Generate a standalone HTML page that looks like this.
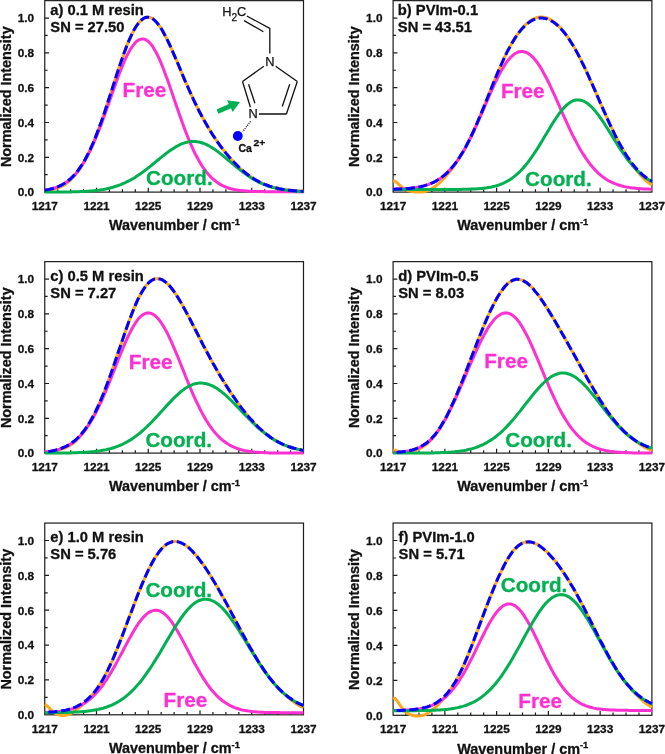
<!DOCTYPE html>
<html lang="en"><head><meta charset="utf-8"><title>Normalized FTIR spectra with peak deconvolution</title>
<style>html,body{margin:0;padding:0;background:#fff}svg{display:block;opacity:0.999;will-change:transform}text{font-family:"Liberation Sans", Arial, Helvetica, sans-serif;font-weight:bold;fill:#111111;stroke:#111111;stroke-width:0.3px;stroke-linejoin:round}.t{font-size:11.8px}.ax{font-size:14.4px}.lb{font-size:14.75px}.big{font-size:20.7px}.c{fill:none;stroke-width:3.0;stroke-linejoin:round}.k{stroke:#1c1c1c;stroke-width:1.2;fill:none}.mol{stroke:#111;stroke-width:1.3;fill:none;stroke-linecap:butt}.rg{font-weight:normal;fill:#111;stroke:#111;stroke-width:0.25px}</style></head><body>
<svg width="665" height="754" viewBox="0 0 665 754">
<rect width="665" height="754" fill="#fff"/>
<g>
<rect class="k" x="44.75" y="0.65" width="258.75" height="191.45"/>
<path class="k" d="M57.69 192.10v-2.9M70.62 192.10v-2.9M83.56 192.10v-2.9M96.50 192.10v-4.3M109.44 192.10v-2.9M122.38 192.10v-2.9M135.31 192.10v-2.9M148.25 192.10v-4.3M161.19 192.10v-2.9M174.12 192.10v-2.9M187.06 192.10v-2.9M200.00 192.10v-4.3M212.94 192.10v-2.9M225.88 192.10v-2.9M238.81 192.10v-2.9M251.75 192.10v-4.3M264.69 192.10v-2.9M277.62 192.10v-2.9M290.56 192.10v-2.9M44.75 174.69h2.9M44.75 157.29h4.3M44.75 139.88h2.9M44.75 122.48h4.3M44.75 105.08h2.9M44.75 87.67h4.3M44.75 70.27h2.9M44.75 52.86h4.3M44.75 35.46h2.9M44.75 18.05h4.3"/>
<text class="t" x="44.8" y="210.1" text-anchor="middle">1217</text>
<text class="t" x="96.5" y="210.1" text-anchor="middle">1221</text>
<text class="t" x="148.2" y="210.1" text-anchor="middle">1225</text>
<text class="t" x="200.0" y="210.1" text-anchor="middle">1229</text>
<text class="t" x="251.8" y="210.1" text-anchor="middle">1233</text>
<text class="t" x="303.5" y="210.1" text-anchor="middle">1237</text>
<text class="t" x="34.1" y="196.3" text-anchor="end">0.0</text>
<text class="t" x="34.1" y="161.5" text-anchor="end">0.2</text>
<text class="t" x="34.1" y="126.7" text-anchor="end">0.4</text>
<text class="t" x="34.1" y="91.9" text-anchor="end">0.6</text>
<text class="t" x="34.1" y="57.1" text-anchor="end">0.8</text>
<text class="t" x="34.1" y="22.3" text-anchor="end">1.0</text>
<text class="ax" x="174.4" y="230.4" text-anchor="middle">Wavenumber / cm<tspan dy="-5.2" font-size="9.4">-1</tspan></text>
<text class="ax" transform="translate(10.5 96.7) rotate(-90)" text-anchor="middle">Normalized Intensity</text>
<path class="c" stroke="#FFA81E" d="M44.8 190.4L46.4 190.3L48.0 190.1L49.6 189.8L51.2 189.5L52.8 189.2L54.5 188.9L56.1 188.4L57.7 187.9L59.3 187.3L60.9 186.6L62.5 185.8L64.2 184.9L65.8 183.9L67.4 182.7L69.0 181.4L70.6 179.9L72.2 178.3L73.9 176.5L75.5 174.6L77.1 172.5L78.7 170.3L80.3 167.9L81.9 165.3L83.6 162.6L85.2 159.7L86.8 156.6L88.4 153.4L90.0 150.0L91.6 146.4L93.3 142.6L94.9 138.7L96.5 134.6L98.1 130.4L99.7 126.0L101.4 121.5L103.0 116.9L104.6 112.1L106.2 107.3L107.8 102.3L109.4 97.3L111.1 92.3L112.7 87.2L114.3 82.2L115.9 77.1L117.5 72.2L119.1 67.3L120.8 62.5L122.4 57.8L124.0 53.3L125.6 48.9L127.2 44.8L128.8 40.9L130.5 37.2L132.1 33.8L133.7 30.6L135.3 27.8L136.9 25.3L138.5 23.1L140.2 21.2L141.8 19.7L143.4 18.5L145.0 17.7L146.6 17.3L148.2 17.2L149.9 17.5L151.5 18.1L153.1 19.1L154.7 20.4L156.3 22.0L158.0 24.0L159.6 26.2L161.2 28.6L162.8 31.3L164.4 34.2L166.0 37.3L167.7 40.6L169.3 44.0L170.9 47.5L172.5 51.1L174.1 54.8L175.7 58.6L177.4 62.4L179.0 66.3L180.6 70.1L182.2 74.0L183.8 77.8L185.4 81.6L187.1 85.3L188.7 89.0L190.3 92.6L191.9 96.1L193.5 99.6L195.1 103.0L196.8 106.3L198.4 109.6L200.0 112.7L201.6 115.8L203.2 118.8L204.9 121.7L206.5 124.5L208.1 127.3L209.7 130.0L211.3 132.6L212.9 135.1L214.6 137.6L216.2 140.0L217.8 142.3L219.4 144.6L221.0 146.8L222.6 149.0L224.3 151.0L225.9 153.1L227.5 155.0L229.1 156.9L230.7 158.8L232.3 160.5L234.0 162.3L235.6 163.9L237.2 165.5L238.8 167.1L240.4 168.6L242.0 170.0L243.7 171.4L245.3 172.7L246.9 174.0L248.5 175.2L250.1 176.3L251.8 177.4L253.4 178.5L255.0 179.5L256.6 180.4L258.2 181.3L259.8 182.1L261.5 182.9L263.1 183.6L264.7 184.3L266.3 184.9L267.9 185.5L269.5 186.1L271.2 186.6L272.8 187.1L274.4 187.5L276.0 187.9L277.6 188.3L279.2 188.7L280.9 189.0L282.5 189.3L284.1 189.5L285.7 189.8L287.3 190.0L288.9 190.2L290.6 190.3L292.2 190.5L293.8 190.7L295.4 190.8L297.0 190.9L298.6 191.0L300.3 191.1L301.9 191.2L303.5 191.2"/>
<path class="c" stroke="#FF30D2" d="M44.8 190.2L46.4 189.9L48.0 189.6L49.6 189.3L51.2 188.9L52.8 188.5L54.5 188.0L56.1 187.5L57.7 186.9L59.3 186.2L60.9 185.4L62.5 184.6L64.2 183.7L65.8 182.6L67.4 181.5L69.0 180.2L70.6 178.9L72.2 177.4L73.9 175.7L75.5 174.0L77.1 172.0L78.7 170.0L80.3 167.7L81.9 165.4L83.6 162.8L85.2 160.1L86.8 157.2L88.4 154.1L90.0 150.9L91.6 147.5L93.3 143.9L94.9 140.2L96.5 136.3L98.1 132.3L99.7 128.1L101.4 123.9L103.0 119.5L104.6 115.0L106.2 110.5L107.8 105.9L109.4 101.3L111.1 96.7L112.7 92.0L114.3 87.4L115.9 82.9L117.5 78.5L119.1 74.2L120.8 70.0L122.4 66.0L124.0 62.1L125.6 58.5L127.2 55.2L128.8 52.1L130.5 49.3L132.1 46.8L133.7 44.6L135.3 42.7L136.9 41.2L138.5 40.1L140.2 39.4L141.8 39.0L143.4 39.0L145.0 39.4L146.6 40.2L148.2 41.4L149.9 43.0L151.5 44.9L153.1 47.2L154.7 49.9L156.3 52.8L158.0 56.1L159.6 59.6L161.2 63.4L162.8 67.3L164.4 71.5L166.0 75.9L167.7 80.3L169.3 84.9L170.9 89.6L172.5 94.3L174.1 99.1L175.7 103.8L177.4 108.5L179.0 113.2L180.6 117.8L182.2 122.3L183.8 126.7L185.4 131.0L187.1 135.2L188.7 139.2L190.3 143.1L191.9 146.7L193.5 150.3L195.1 153.6L196.8 156.8L198.4 159.8L200.0 162.6L201.6 165.2L203.2 167.7L204.9 169.9L206.5 172.1L208.1 174.0L209.7 175.8L211.3 177.5L212.9 179.0L214.6 180.4L216.2 181.7L217.8 182.8L219.4 183.9L221.0 184.8L222.6 185.6L224.3 186.4L225.9 187.1L227.5 187.7L229.1 188.2L230.7 188.7L232.3 189.1L234.0 189.4L235.6 189.8L237.2 190.0L238.8 190.3L240.4 190.5L242.0 190.7L243.7 190.8L245.3 191.0L246.9 191.1L248.5 191.2L250.1 191.3L251.8 191.4L253.4 191.4L255.0 191.5L256.6 191.5L258.2 191.6L259.8 191.6L261.5 191.6L263.1 191.6L264.7 191.7L266.3 191.7L267.9 191.7L269.5 191.7L271.2 191.7L272.8 191.7L274.4 191.7L276.0 191.7L277.6 191.7L279.2 191.7L280.9 191.7L282.5 191.7L284.1 191.7L285.7 191.7L287.3 191.7L288.9 191.7L290.6 191.7L292.2 191.7L293.8 191.8L295.4 191.8L297.0 191.8L298.6 191.8L300.3 191.8L301.9 191.8L303.5 191.8"/>
<path class="c" stroke="#00B050" d="M44.8 192.1L46.4 192.1L48.0 192.1L49.6 192.1L51.2 192.1L52.8 192.1L54.5 192.1L56.1 192.0L57.7 192.0L59.3 192.0L60.9 192.0L62.5 192.0L64.2 192.0L65.8 192.0L67.4 191.9L69.0 191.9L70.6 191.9L72.2 191.8L73.9 191.8L75.5 191.8L77.1 191.7L78.7 191.7L80.3 191.6L81.9 191.5L83.6 191.4L85.2 191.4L86.8 191.3L88.4 191.2L90.0 191.0L91.6 190.9L93.3 190.7L94.9 190.6L96.5 190.4L98.1 190.2L99.7 190.0L101.4 189.7L103.0 189.5L104.6 189.2L106.2 188.9L107.8 188.5L109.4 188.1L111.1 187.7L112.7 187.3L114.3 186.8L115.9 186.3L117.5 185.8L119.1 185.2L120.8 184.6L122.4 183.9L124.0 183.2L125.6 182.5L127.2 181.7L128.8 180.9L130.5 180.0L132.1 179.1L133.7 178.2L135.3 177.2L136.9 176.1L138.5 175.1L140.2 173.9L141.8 172.8L143.4 171.6L145.0 170.4L146.6 169.2L148.2 167.9L149.9 166.6L151.5 165.3L153.1 164.0L154.7 162.7L156.3 161.3L158.0 160.0L159.6 158.7L161.2 157.4L162.8 156.1L164.4 154.8L166.0 153.5L167.7 152.3L169.3 151.1L170.9 150.0L172.5 148.9L174.1 147.9L175.7 146.9L177.4 146.0L179.0 145.2L180.6 144.4L182.2 143.7L183.8 143.1L185.4 142.6L187.1 142.2L188.7 141.9L190.3 141.6L191.9 141.5L193.5 141.5L195.1 141.5L196.8 141.7L198.4 141.9L200.0 142.3L201.6 142.7L203.2 143.2L204.9 143.9L206.5 144.6L208.1 145.4L209.7 146.3L211.3 147.2L212.9 148.2L214.6 149.3L216.2 150.4L217.8 151.6L219.4 152.9L221.0 154.1L222.6 155.4L224.3 156.8L225.9 158.1L227.5 159.5L229.1 160.8L230.7 162.2L232.3 163.6L234.0 164.9L235.6 166.3L237.2 167.6L238.8 168.9L240.4 170.2L242.0 171.4L243.7 172.7L245.3 173.8L246.9 175.0L248.5 176.1L250.1 177.2L251.8 178.2L253.4 179.2L255.0 180.1L256.6 181.0L258.2 181.8L259.8 182.6L261.5 183.4L263.1 184.1L264.7 184.7L266.3 185.4L267.9 186.0L269.5 186.5L271.2 187.0L272.8 187.5L274.4 187.9L276.0 188.3L277.6 188.7L279.2 189.0L280.9 189.3L282.5 189.6L284.1 189.9L285.7 190.1L287.3 190.3L288.9 190.5L290.6 190.7L292.2 190.9L293.8 191.0L295.4 191.1L297.0 191.2L298.6 191.3L300.3 191.4L301.9 191.5L303.5 191.6"/>
<path class="c" stroke="#0000FF" stroke-dasharray="9.2 3.5" stroke-dashoffset="0" d="M44.8 190.2L46.4 189.9L48.0 189.6L49.6 189.3L51.2 188.9L52.8 188.5L54.5 188.0L56.1 187.4L57.7 186.8L59.3 186.1L60.9 185.3L62.5 184.5L64.2 183.5L65.8 182.5L67.4 181.3L69.0 180.0L70.6 178.6L72.2 177.1L73.9 175.4L75.5 173.6L77.1 171.7L78.7 169.5L80.3 167.2L81.9 164.8L83.6 162.1L85.2 159.3L86.8 156.3L88.4 153.2L90.0 149.8L91.6 146.3L93.3 142.6L94.9 138.7L96.5 134.6L98.1 130.4L99.7 126.0L101.4 121.5L103.0 116.9L104.6 112.1L106.2 107.3L107.8 102.3L109.4 97.3L111.1 92.3L112.7 87.2L114.3 82.2L115.9 77.1L117.5 72.2L119.1 67.3L120.8 62.5L122.4 57.8L124.0 53.3L125.6 48.9L127.2 44.8L128.8 40.9L130.5 37.2L132.1 33.8L133.7 30.6L135.3 27.8L136.9 25.3L138.5 23.1L140.2 21.2L141.8 19.7L143.4 18.5L145.0 17.7L146.6 17.3L148.2 17.2L149.9 17.5L151.5 18.1L153.1 19.1L154.7 20.4L156.3 22.0L158.0 24.0L159.6 26.2L161.2 28.6L162.8 31.3L164.4 34.2L166.0 37.3L167.7 40.6L169.3 44.0L170.9 47.5L172.5 51.1L174.1 54.8L175.7 58.6L177.4 62.4L179.0 66.3L180.6 70.1L182.2 74.0L183.8 77.8L185.4 81.6L187.1 85.3L188.7 89.0L190.3 92.6L191.9 96.1L193.5 99.6L195.1 103.0L196.8 106.3L198.4 109.6L200.0 112.7L201.6 115.8L203.2 118.8L204.9 121.7L206.5 124.5L208.1 127.3L209.7 130.0L211.3 132.6L212.9 135.1L214.6 137.6L216.2 140.0L217.8 142.3L219.4 144.6L221.0 146.8L222.6 149.0L224.3 151.0L225.9 153.1L227.5 155.0L229.1 156.9L230.7 158.8L232.3 160.5L234.0 162.3L235.6 163.9L237.2 165.5L238.8 167.1L240.4 168.6L242.0 170.0L243.7 171.4L245.3 172.7L246.9 174.0L248.5 175.2L250.1 176.3L251.8 177.4L253.4 178.5L255.0 179.5L256.6 180.4L258.2 181.3L259.8 182.1L261.5 182.9L263.1 183.6L264.7 184.3L266.3 184.9L267.9 185.5L269.5 186.1L271.2 186.6L272.8 187.1L274.4 187.5L276.0 187.9L277.6 188.3L279.2 188.7L280.9 189.0L282.5 189.3L284.1 189.5L285.7 189.8L287.3 190.0L288.9 190.2L290.6 190.3L292.2 190.5L293.8 190.7L295.4 190.8L297.0 190.9L298.6 191.0L300.3 191.1L301.9 191.2L303.5 191.2"/>
<text class="lb" x="50.3" y="14.8">a) 0.1 M resin</text>
<text class="lb" x="50.3" y="32.1">SN = 27.50</text>
<text class="big" x="122.5" y="96.7" style="fill:#FF30D2;stroke:#FF30D2">Free</text>
<text class="big" x="146.0" y="184.6" style="fill:#00B050;stroke:#00B050">Coord.</text>
</g>
<g>
<rect class="k" x="393.10" y="0.65" width="258.80" height="191.45"/>
<path class="k" d="M406.04 192.10v-2.9M418.98 192.10v-2.9M431.92 192.10v-2.9M444.86 192.10v-4.3M457.80 192.10v-2.9M470.74 192.10v-2.9M483.68 192.10v-2.9M496.62 192.10v-4.3M509.56 192.10v-2.9M522.50 192.10v-2.9M535.44 192.10v-2.9M548.38 192.10v-4.3M561.32 192.10v-2.9M574.26 192.10v-2.9M587.20 192.10v-2.9M600.14 192.10v-4.3M613.08 192.10v-2.9M626.02 192.10v-2.9M638.96 192.10v-2.9M393.10 174.69h2.9M393.10 157.29h4.3M393.10 139.88h2.9M393.10 122.48h4.3M393.10 105.08h2.9M393.10 87.67h4.3M393.10 70.27h2.9M393.10 52.86h4.3M393.10 35.46h2.9M393.10 18.05h4.3"/>
<text class="t" x="393.1" y="210.1" text-anchor="middle">1217</text>
<text class="t" x="444.9" y="210.1" text-anchor="middle">1221</text>
<text class="t" x="496.6" y="210.1" text-anchor="middle">1225</text>
<text class="t" x="548.4" y="210.1" text-anchor="middle">1229</text>
<text class="t" x="600.1" y="210.1" text-anchor="middle">1233</text>
<text class="t" x="651.9" y="210.1" text-anchor="middle">1237</text>
<text class="t" x="382.5" y="196.3" text-anchor="end">0.0</text>
<text class="t" x="382.5" y="161.5" text-anchor="end">0.2</text>
<text class="t" x="382.5" y="126.7" text-anchor="end">0.4</text>
<text class="t" x="382.5" y="91.9" text-anchor="end">0.6</text>
<text class="t" x="382.5" y="57.1" text-anchor="end">0.8</text>
<text class="t" x="382.5" y="22.3" text-anchor="end">1.0</text>
<text class="ax" x="522.8" y="230.4" text-anchor="middle">Wavenumber / cm<tspan dy="-5.2" font-size="9.4">-1</tspan></text>
<text class="ax" transform="translate(358.8 96.7) rotate(-90)" text-anchor="middle">Normalized Intensity</text>
<path class="c" stroke="#FFA81E" d="M393.1 180.9L394.7 181.3L396.3 182.2L398.0 183.6L399.6 185.2L401.2 186.7L402.8 188.0L404.4 189.1L406.0 189.9L407.7 190.5L409.3 190.9L410.9 191.3L412.5 191.6L414.1 191.8L415.7 192.0L417.4 192.1L419.0 192.1L420.6 192.1L422.2 191.9L423.8 191.7L425.5 191.3L427.1 190.8L428.7 190.2L430.3 189.5L431.9 188.6L433.5 187.6L435.2 186.4L436.8 185.2L438.4 183.8L440.0 182.4L441.6 180.8L443.2 179.2L444.9 177.4L446.5 175.6L448.1 173.7L449.7 171.7L451.3 169.6L452.9 167.5L454.6 165.2L456.2 162.9L457.8 160.5L459.4 157.9L461.0 155.3L462.7 152.5L464.3 149.7L465.9 146.7L467.5 143.6L469.1 140.4L470.7 137.1L472.4 133.7L474.0 130.1L475.6 126.5L477.2 122.8L478.8 119.0L480.4 115.2L482.1 111.2L483.7 107.3L485.3 103.3L486.9 99.2L488.5 95.2L490.1 91.1L491.8 87.1L493.4 83.1L495.0 79.1L496.6 75.2L498.2 71.4L499.9 67.6L501.5 64.0L503.1 60.4L504.7 56.9L506.3 53.6L507.9 50.4L509.6 47.3L511.2 44.4L512.8 41.6L514.4 39.0L516.0 36.5L517.6 34.1L519.3 31.9L520.9 29.8L522.5 27.9L524.1 26.2L525.7 24.5L527.4 23.1L529.0 21.7L530.6 20.6L532.2 19.6L533.8 18.7L535.4 18.1L537.1 17.5L538.7 17.2L540.3 17.0L541.9 17.0L543.5 17.2L545.1 17.5L546.8 17.9L548.4 18.6L550.0 19.4L551.6 20.3L553.2 21.4L554.9 22.6L556.5 24.0L558.1 25.4L559.7 27.1L561.3 28.8L562.9 30.7L564.6 32.7L566.2 34.9L567.8 37.2L569.4 39.6L571.0 42.1L572.6 44.7L574.3 47.5L575.9 50.3L577.5 53.3L579.1 56.4L580.7 59.6L582.3 62.9L584.0 66.2L585.6 69.6L587.2 73.1L588.8 76.7L590.4 80.3L592.1 83.9L593.7 87.6L595.3 91.2L596.9 95.0L598.5 98.7L600.1 102.4L601.8 106.1L603.4 109.8L605.0 113.4L606.6 117.1L608.2 120.6L609.8 124.1L611.5 127.6L613.1 131.0L614.7 134.3L616.3 137.5L617.9 140.7L619.5 143.7L621.2 146.7L622.8 149.5L624.4 152.3L626.0 155.0L627.6 157.6L629.3 160.1L630.9 162.5L632.5 164.8L634.1 167.1L635.7 169.2L637.3 171.3L639.0 173.3L640.6 175.2L642.2 177.0L643.8 178.6L645.4 180.2L647.0 181.6L648.7 182.8L650.3 183.9L651.9 184.9"/>
<path class="c" stroke="#FF30D2" d="M393.1 189.2L394.7 189.2L396.3 189.1L398.0 189.1L399.6 189.0L401.2 188.9L402.8 188.9L404.4 188.8L406.0 188.6L407.7 188.5L409.3 188.4L410.9 188.2L412.5 188.0L414.1 187.8L415.7 187.6L417.4 187.3L419.0 187.0L420.6 186.7L422.2 186.3L423.8 185.9L425.5 185.4L427.1 184.9L428.7 184.4L430.3 183.7L431.9 183.1L433.5 182.3L435.2 181.5L436.8 180.6L438.4 179.6L440.0 178.6L441.6 177.4L443.2 176.2L444.9 174.8L446.5 173.4L448.1 171.8L449.7 170.1L451.3 168.4L452.9 166.5L454.6 164.4L456.2 162.3L457.8 160.0L459.4 157.6L461.0 155.1L462.7 152.5L464.3 149.7L465.9 146.8L467.5 143.8L469.1 140.7L470.7 137.5L472.4 134.1L474.0 130.7L475.6 127.2L477.2 123.6L478.8 120.0L480.4 116.3L482.1 112.6L483.7 108.8L485.3 105.0L486.9 101.3L488.5 97.5L490.1 93.8L491.8 90.2L493.4 86.6L495.0 83.1L496.6 79.8L498.2 76.5L499.9 73.4L501.5 70.4L503.1 67.7L504.7 65.1L506.3 62.7L507.9 60.5L509.6 58.5L511.2 56.8L512.8 55.3L514.4 54.0L516.0 53.0L517.6 52.3L519.3 51.8L520.9 51.5L522.5 51.5L524.1 51.7L525.7 52.2L527.4 53.0L529.0 54.0L530.6 55.2L532.2 56.6L533.8 58.3L535.4 60.2L537.1 62.3L538.7 64.6L540.3 67.1L541.9 69.8L543.5 72.7L545.1 75.7L546.8 78.8L548.4 82.0L550.0 85.4L551.6 88.8L553.2 92.4L554.9 95.9L556.5 99.6L558.1 103.2L559.7 106.9L561.3 110.5L562.9 114.2L564.6 117.8L566.2 121.4L567.8 124.9L569.4 128.4L571.0 131.8L572.6 135.1L574.3 138.3L575.9 141.4L577.5 144.4L579.1 147.4L580.7 150.2L582.3 152.8L584.0 155.4L585.6 157.9L587.2 160.2L588.8 162.4L590.4 164.5L592.1 166.5L593.7 168.4L595.3 170.1L596.9 171.8L598.5 173.3L600.1 174.7L601.8 176.1L603.4 177.3L605.0 178.4L606.6 179.5L608.2 180.5L609.8 181.3L611.5 182.2L613.1 182.9L614.7 183.6L616.3 184.2L617.9 184.8L619.5 185.3L621.2 185.8L622.8 186.2L624.4 186.6L626.0 186.9L627.6 187.2L629.3 187.5L630.9 187.7L632.5 187.9L634.1 188.1L635.7 188.3L637.3 188.5L639.0 188.6L640.6 188.7L642.2 188.8L643.8 188.9L645.4 189.0L647.0 189.1L648.7 189.1L650.3 189.2L651.9 189.2"/>
<path class="c" stroke="#00B050" d="M393.1 189.5L394.7 189.5L396.3 189.5L398.0 189.5L399.6 189.5L401.2 189.5L402.8 189.5L404.4 189.5L406.0 189.5L407.7 189.5L409.3 189.5L410.9 189.5L412.5 189.5L414.1 189.5L415.7 189.5L417.4 189.5L419.0 189.5L420.6 189.5L422.2 189.5L423.8 189.5L425.5 189.5L427.1 189.5L428.7 189.5L430.3 189.5L431.9 189.5L433.5 189.5L435.2 189.5L436.8 189.5L438.4 189.5L440.0 189.5L441.6 189.5L443.2 189.5L444.9 189.5L446.5 189.5L448.1 189.5L449.7 189.5L451.3 189.4L452.9 189.4L454.6 189.4L456.2 189.4L457.8 189.4L459.4 189.4L461.0 189.4L462.7 189.3L464.3 189.3L465.9 189.3L467.5 189.2L469.1 189.2L470.7 189.1L472.4 189.1L474.0 189.0L475.6 188.9L477.2 188.8L478.8 188.7L480.4 188.5L482.1 188.4L483.7 188.2L485.3 188.0L486.9 187.8L488.5 187.5L490.1 187.2L491.8 186.9L493.4 186.5L495.0 186.1L496.6 185.7L498.2 185.2L499.9 184.6L501.5 184.0L503.1 183.3L504.7 182.5L506.3 181.7L507.9 180.8L509.6 179.9L511.2 178.8L512.8 177.6L514.4 176.4L516.0 175.1L517.6 173.7L519.3 172.1L520.9 170.5L522.5 168.8L524.1 167.0L525.7 165.0L527.4 163.0L529.0 160.9L530.6 158.7L532.2 156.4L533.8 154.0L535.4 151.6L537.1 149.1L538.7 146.5L540.3 143.9L541.9 141.2L543.5 138.5L545.1 135.8L546.8 133.1L548.4 130.4L550.0 127.7L551.6 125.0L553.2 122.4L554.9 119.9L556.5 117.5L558.1 115.2L559.7 112.9L561.3 110.9L562.9 108.9L564.6 107.1L566.2 105.5L567.8 104.1L569.4 102.9L571.0 101.8L572.6 101.0L574.3 100.4L575.9 100.0L577.5 99.9L579.1 99.9L580.7 100.2L582.3 100.6L584.0 101.3L585.6 102.2L587.2 103.2L588.8 104.5L590.4 105.9L592.1 107.5L593.7 109.2L595.3 111.1L596.9 113.1L598.5 115.2L600.1 117.5L601.8 119.8L603.4 122.2L605.0 124.7L606.6 127.2L608.2 129.8L609.8 132.4L611.5 135.0L613.1 137.6L614.7 140.2L616.3 142.8L617.9 145.4L619.5 147.9L621.2 150.3L622.8 152.7L624.4 155.0L626.0 157.3L627.6 159.5L629.3 161.6L630.9 163.6L632.5 165.5L634.1 167.3L635.7 169.0L637.3 170.7L639.0 172.2L640.6 173.7L642.2 175.1L643.8 176.3L645.4 177.5L647.0 178.7L648.7 179.7L650.3 180.6L651.9 181.5"/>
<path class="c" stroke="#0000FF" stroke-dasharray="9.2 3.5" stroke-dashoffset="0" d="M393.1 189.2L394.7 189.2L396.3 189.1L398.0 189.1L399.6 189.0L401.2 188.9L402.8 188.9L404.4 188.8L406.0 188.6L407.7 188.5L409.3 188.4L410.9 188.2L412.5 188.0L414.1 187.8L415.7 187.6L417.4 187.3L419.0 187.0L420.6 186.7L422.2 186.3L423.8 185.9L425.5 185.4L427.1 184.9L428.7 184.4L430.3 183.7L431.9 183.0L433.5 182.3L435.2 181.5L436.8 180.6L438.4 179.6L440.0 178.5L441.6 177.4L443.2 176.1L444.9 174.8L446.5 173.3L448.1 171.8L449.7 170.1L451.3 168.3L452.9 166.4L454.6 164.4L456.2 162.2L457.8 159.9L459.4 157.5L461.0 155.0L462.7 152.3L464.3 149.5L465.9 146.6L467.5 143.5L469.1 140.3L470.7 137.0L472.4 133.6L474.0 130.1L475.6 126.5L477.2 122.8L478.8 119.0L480.4 115.2L482.1 111.2L483.7 107.3L485.3 103.3L486.9 99.2L488.5 95.2L490.1 91.1L491.8 87.1L493.4 83.1L495.0 79.1L496.6 75.2L498.2 71.4L499.9 67.6L501.5 64.0L503.1 60.4L504.7 57.0L506.3 53.6L507.9 50.4L509.6 47.4L511.2 44.5L512.8 41.7L514.4 39.1L516.0 36.6L517.6 34.3L519.3 32.1L520.9 30.1L522.5 28.3L524.1 26.6L525.7 25.0L527.4 23.6L529.0 22.4L530.6 21.3L532.2 20.4L533.8 19.6L535.4 19.0L537.1 18.5L538.7 18.2L540.3 18.1L541.9 18.0L543.5 18.2L545.1 18.5L546.8 18.9L548.4 19.5L550.0 20.2L551.6 21.1L553.2 22.1L554.9 23.2L556.5 24.5L558.1 25.9L559.7 27.5L561.3 29.2L562.9 31.0L564.6 33.0L566.2 35.1L567.8 37.3L569.4 39.7L571.0 42.2L572.6 44.8L574.3 47.5L575.9 50.4L577.5 53.4L579.1 56.4L580.7 59.6L582.3 62.9L584.0 66.2L585.6 69.6L587.2 73.1L588.8 76.7L590.4 80.3L592.1 83.9L593.7 87.6L595.3 91.2L596.9 95.0L598.5 98.7L600.1 102.4L601.8 106.1L603.4 109.8L605.0 113.4L606.6 117.1L608.2 120.6L609.8 124.1L611.5 127.6L613.1 131.0L614.7 134.3L616.3 137.5L617.9 140.6L619.5 143.6L621.2 146.5L622.8 149.4L624.4 152.1L626.0 154.7L627.6 157.2L629.3 159.5L630.9 161.8L632.5 163.9L634.1 165.9L635.7 167.9L637.3 169.6L639.0 171.3L640.6 172.9L642.2 174.4L643.8 175.8L645.4 177.0L647.0 178.2L648.7 179.3L650.3 180.3L651.9 181.2"/>
<text class="lb" x="397.8" y="15.2">b) PVIm-0.1</text>
<text class="lb" x="397.8" y="32.2">SN = 43.51</text>
<text class="big" x="500.9" y="97.8" style="fill:#FF30D2;stroke:#FF30D2">Free</text>
<text class="big" x="525.1" y="185.7" style="fill:#00B050;stroke:#00B050">Coord.</text>
</g>
<g>
<rect class="k" x="44.75" y="261.64" width="258.75" height="191.46"/>
<path class="k" d="M57.69 453.10v-2.9M70.62 453.10v-2.9M83.56 453.10v-2.9M96.50 453.10v-4.3M109.44 453.10v-2.9M122.38 453.10v-2.9M135.31 453.10v-2.9M148.25 453.10v-4.3M161.19 453.10v-2.9M174.12 453.10v-2.9M187.06 453.10v-2.9M200.00 453.10v-4.3M212.94 453.10v-2.9M225.88 453.10v-2.9M238.81 453.10v-2.9M251.75 453.10v-4.3M264.69 453.10v-2.9M277.62 453.10v-2.9M290.56 453.10v-2.9M44.75 435.70h2.9M44.75 418.29h4.3M44.75 400.88h2.9M44.75 383.48h4.3M44.75 366.08h2.9M44.75 348.67h4.3M44.75 331.26h2.9M44.75 313.86h4.3M44.75 296.46h2.9M44.75 279.05h4.3"/>
<text class="t" x="44.8" y="471.1" text-anchor="middle">1217</text>
<text class="t" x="96.5" y="471.1" text-anchor="middle">1221</text>
<text class="t" x="148.2" y="471.1" text-anchor="middle">1225</text>
<text class="t" x="200.0" y="471.1" text-anchor="middle">1229</text>
<text class="t" x="251.8" y="471.1" text-anchor="middle">1233</text>
<text class="t" x="303.5" y="471.1" text-anchor="middle">1237</text>
<text class="t" x="34.1" y="457.4" text-anchor="end">0.0</text>
<text class="t" x="34.1" y="422.5" text-anchor="end">0.2</text>
<text class="t" x="34.1" y="387.7" text-anchor="end">0.4</text>
<text class="t" x="34.1" y="352.9" text-anchor="end">0.6</text>
<text class="t" x="34.1" y="318.1" text-anchor="end">0.8</text>
<text class="t" x="34.1" y="283.3" text-anchor="end">1.0</text>
<text class="ax" x="174.4" y="491.4" text-anchor="middle">Wavenumber / cm<tspan dy="-5.2" font-size="9.4">-1</tspan></text>
<text class="ax" transform="translate(10.5 357.7) rotate(-90)" text-anchor="middle">Normalized Intensity</text>
<path class="c" stroke="#FFA81E" d="M44.8 452.0L46.4 451.9L48.0 451.7L49.6 451.5L51.2 451.3L52.8 451.1L54.5 450.8L56.1 450.5L57.7 450.2L59.3 449.8L60.9 449.3L62.5 448.8L64.2 448.3L65.8 447.6L67.4 446.9L69.0 446.0L70.6 445.0L72.2 443.9L73.9 442.7L75.5 441.3L77.1 439.8L78.7 438.2L80.3 436.3L81.9 434.4L83.6 432.2L85.2 430.0L86.8 427.5L88.4 424.9L90.0 422.2L91.6 419.3L93.3 416.3L94.9 413.1L96.5 409.7L98.1 406.2L99.7 402.6L101.4 398.8L103.0 394.9L104.6 390.8L106.2 386.6L107.8 382.3L109.4 377.8L111.1 373.3L112.7 368.7L114.3 364.0L115.9 359.3L117.5 354.5L119.1 349.7L120.8 344.9L122.4 340.1L124.0 335.4L125.6 330.8L127.2 326.2L128.8 321.7L130.5 317.3L132.1 313.1L133.7 309.1L135.3 305.3L136.9 301.6L138.5 298.2L140.2 295.0L141.8 292.1L143.4 289.5L145.0 287.1L146.6 285.0L148.2 283.2L149.9 281.7L151.5 280.5L153.1 279.6L154.7 279.0L156.3 278.7L158.0 278.7L159.6 278.9L161.2 279.4L162.8 280.2L164.4 281.2L166.0 282.4L167.7 283.9L169.3 285.6L170.9 287.4L172.5 289.5L174.1 291.7L175.7 294.1L177.4 296.6L179.0 299.2L180.6 301.9L182.2 304.8L183.8 307.7L185.4 310.6L187.1 313.7L188.7 316.7L190.3 319.8L191.9 323.0L193.5 326.1L195.1 329.3L196.8 332.5L198.4 335.7L200.0 338.8L201.6 342.0L203.2 345.1L204.9 348.2L206.5 351.3L208.1 354.3L209.7 357.3L211.3 360.3L212.9 363.2L214.6 366.1L216.2 368.9L217.8 371.7L219.4 374.5L221.0 377.2L222.6 379.8L224.3 382.5L225.9 385.1L227.5 387.6L229.1 390.1L230.7 392.6L232.3 395.0L234.0 397.4L235.6 399.7L237.2 402.0L238.8 404.2L240.4 406.4L242.0 408.6L243.7 410.6L245.3 412.7L246.9 414.7L248.5 416.6L250.1 418.5L251.8 420.3L253.4 422.1L255.0 423.8L256.6 425.4L258.2 427.0L259.8 428.5L261.5 430.0L263.1 431.4L264.7 432.8L266.3 434.1L267.9 435.3L269.5 436.5L271.2 437.7L272.8 438.7L274.4 439.7L276.0 440.7L277.6 441.6L279.2 442.5L280.9 443.3L282.5 444.1L284.1 444.8L285.7 445.5L287.3 446.1L288.9 446.7L290.6 447.2L292.2 447.7L293.8 448.2L295.4 448.6L297.0 449.0L298.6 449.4L300.3 449.8L301.9 450.1L303.5 450.4"/>
<path class="c" stroke="#FF30D2" d="M44.8 452.0L46.4 451.8L48.0 451.6L49.6 451.4L51.2 451.1L52.8 450.8L54.5 450.5L56.1 450.1L57.7 449.7L59.3 449.2L60.9 448.6L62.5 448.0L64.2 447.4L65.8 446.6L67.4 445.8L69.0 444.9L70.6 443.9L72.2 442.8L73.9 441.6L75.5 440.3L77.1 438.9L78.7 437.4L80.3 435.7L81.9 433.9L83.6 432.0L85.2 429.9L86.8 427.7L88.4 425.3L90.0 422.8L91.6 420.2L93.3 417.4L94.9 414.4L96.5 411.3L98.1 408.1L99.7 404.7L101.4 401.3L103.0 397.6L104.6 393.9L106.2 390.1L107.8 386.2L109.4 382.2L111.1 378.1L112.7 374.0L114.3 369.9L115.9 365.8L117.5 361.6L119.1 357.5L120.8 353.5L122.4 349.5L124.0 345.7L125.6 341.9L127.2 338.3L128.8 334.9L130.5 331.6L132.1 328.5L133.7 325.7L135.3 323.1L136.9 320.8L138.5 318.7L140.2 317.0L141.8 315.5L143.4 314.4L145.0 313.6L146.6 313.1L148.2 312.9L149.9 313.1L151.5 313.5L153.1 314.3L154.7 315.4L156.3 316.8L158.0 318.5L159.6 320.5L161.2 322.7L162.8 325.2L164.4 327.9L166.0 330.8L167.7 333.9L169.3 337.3L170.9 340.7L172.5 344.4L174.1 348.1L175.7 351.9L177.4 355.9L179.0 359.8L180.6 363.9L182.2 367.9L183.8 371.9L185.4 376.0L187.1 380.0L188.7 383.9L190.3 387.8L191.9 391.6L193.5 395.3L195.1 398.9L196.8 402.4L198.4 405.7L200.0 409.0L201.6 412.1L203.2 415.1L204.9 418.0L206.5 420.7L208.1 423.2L209.7 425.7L211.3 427.9L212.9 430.1L214.6 432.1L216.2 434.0L217.8 435.7L219.4 437.4L221.0 438.9L222.6 440.3L224.3 441.5L225.9 442.7L227.5 443.8L229.1 444.8L230.7 445.7L232.3 446.5L234.0 447.2L235.6 447.9L237.2 448.5L238.8 449.0L240.4 449.5L242.0 450.0L243.7 450.4L245.3 450.7L246.9 451.0L248.5 451.3L250.1 451.5L251.8 451.7L253.4 451.9L255.0 452.1L256.6 452.2L258.2 452.3L259.8 452.5L261.5 452.5L263.1 452.6L264.7 452.7L266.3 452.8L267.9 452.8L269.5 452.9L271.2 452.9L272.8 452.9L274.4 453.0L276.0 453.0L277.6 453.0L279.2 453.0L280.9 453.0L282.5 453.0L284.1 453.1L285.7 453.1L287.3 453.1L288.9 453.1L290.6 453.1L292.2 453.1L293.8 453.1L295.4 453.1L297.0 453.1L298.6 453.1L300.3 453.1L301.9 453.1L303.5 453.1"/>
<path class="c" stroke="#00B050" d="M44.8 453.1L46.4 453.1L48.0 453.1L49.6 453.1L51.2 453.1L52.8 453.1L54.5 453.0L56.1 453.0L57.7 453.0L59.3 453.0L60.9 453.0L62.5 453.0L64.2 453.0L65.8 453.0L67.4 452.9L69.0 452.9L70.6 452.9L72.2 452.8L73.9 452.8L75.5 452.8L77.1 452.7L78.7 452.6L80.3 452.6L81.9 452.5L83.6 452.4L85.2 452.3L86.8 452.2L88.4 452.1L90.0 452.0L91.6 451.8L93.3 451.7L94.9 451.5L96.5 451.3L98.1 451.1L99.7 450.9L101.4 450.6L103.0 450.3L104.6 450.0L106.2 449.7L107.8 449.3L109.4 448.9L111.1 448.5L112.7 448.0L114.3 447.5L115.9 446.9L117.5 446.3L119.1 445.7L120.8 445.0L122.4 444.3L124.0 443.5L125.6 442.7L127.2 441.8L128.8 440.9L130.5 439.9L132.1 438.8L133.7 437.7L135.3 436.6L136.9 435.4L138.5 434.1L140.2 432.8L141.8 431.4L143.4 430.0L145.0 428.5L146.6 427.0L148.2 425.4L149.9 423.8L151.5 422.2L153.1 420.5L154.7 418.8L156.3 417.1L158.0 415.3L159.6 413.5L161.2 411.7L162.8 410.0L164.4 408.2L166.0 406.4L167.7 404.6L169.3 402.9L170.9 401.2L172.5 399.5L174.1 397.9L175.7 396.3L177.4 394.8L179.0 393.3L180.6 391.9L182.2 390.6L183.8 389.4L185.4 388.3L187.1 387.3L188.7 386.3L190.3 385.5L191.9 384.8L193.5 384.2L195.1 383.7L196.8 383.4L198.4 383.1L200.0 383.0L201.6 383.0L203.2 383.2L204.9 383.4L206.5 383.8L208.1 384.2L209.7 384.8L211.3 385.4L212.9 386.2L214.6 387.1L216.2 388.0L217.8 389.1L219.4 390.2L221.0 391.4L222.6 392.7L224.3 394.0L225.9 395.5L227.5 396.9L229.1 398.5L230.7 400.0L232.3 401.6L234.0 403.3L235.6 404.9L237.2 406.6L238.8 408.3L240.4 410.0L242.0 411.7L243.7 413.4L245.3 415.1L246.9 416.8L248.5 418.4L250.1 420.0L251.8 421.7L253.4 423.2L255.0 424.8L256.6 426.3L258.2 427.8L259.8 429.2L261.5 430.6L263.1 431.9L264.7 433.2L266.3 434.4L267.9 435.6L269.5 436.8L271.2 437.9L272.8 438.9L274.4 439.9L276.0 440.8L277.6 441.7L279.2 442.6L280.9 443.4L282.5 444.1L284.1 444.8L285.7 445.5L287.3 446.1L288.9 446.7L290.6 447.2L292.2 447.7L293.8 448.2L295.4 448.6L297.0 449.1L298.6 449.4L300.3 449.8L301.9 450.1L303.5 450.4"/>
<path class="c" stroke="#0000FF" stroke-dasharray="9.2 3.5" stroke-dashoffset="9.2" d="M44.8 452.0L46.4 451.8L48.0 451.6L49.6 451.4L51.2 451.1L52.8 450.8L54.5 450.4L56.1 450.0L57.7 449.6L59.3 449.1L60.9 448.6L62.5 447.9L64.2 447.2L65.8 446.5L67.4 445.6L69.0 444.7L70.6 443.7L72.2 442.6L73.9 441.3L75.5 440.0L77.1 438.5L78.7 436.9L80.3 435.2L81.9 433.3L83.6 431.3L85.2 429.1L86.8 426.8L88.4 424.3L90.0 421.7L91.6 418.9L93.3 416.0L94.9 412.8L96.5 409.5L98.1 406.1L99.7 402.5L101.4 398.7L103.0 394.8L104.6 390.7L106.2 386.6L107.8 382.2L109.4 377.8L111.1 373.3L112.7 368.7L114.3 364.0L115.9 359.3L117.5 354.5L119.1 349.7L120.8 344.9L122.4 340.1L124.0 335.4L125.6 330.8L127.2 326.2L128.8 321.7L130.5 317.3L132.1 313.1L133.7 309.1L135.3 305.3L136.9 301.6L138.5 298.2L140.2 295.0L141.8 292.1L143.4 289.5L145.0 287.1L146.6 285.0L148.2 283.2L149.9 281.7L151.5 280.5L153.1 279.6L154.7 279.0L156.3 278.7L158.0 278.7L159.6 278.9L161.2 279.4L162.8 280.2L164.4 281.2L166.0 282.4L167.7 283.9L169.3 285.6L170.9 287.4L172.5 289.5L174.1 291.7L175.7 294.1L177.4 296.6L179.0 299.2L180.6 301.9L182.2 304.8L183.8 307.7L185.4 310.6L187.1 313.7L188.7 316.7L190.3 319.8L191.9 323.0L193.5 326.1L195.1 329.3L196.8 332.5L198.4 335.7L200.0 338.8L201.6 342.0L203.2 345.1L204.9 348.2L206.5 351.3L208.1 354.3L209.7 357.3L211.3 360.3L212.9 363.2L214.6 366.1L216.2 368.9L217.8 371.7L219.4 374.5L221.0 377.2L222.6 379.8L224.3 382.5L225.9 385.1L227.5 387.6L229.1 390.1L230.7 392.6L232.3 395.0L234.0 397.4L235.6 399.7L237.2 402.0L238.8 404.2L240.4 406.4L242.0 408.6L243.7 410.6L245.3 412.7L246.9 414.7L248.5 416.6L250.1 418.5L251.8 420.3L253.4 422.1L255.0 423.8L256.6 425.4L258.2 427.0L259.8 428.5L261.5 430.0L263.1 431.4L264.7 432.8L266.3 434.1L267.9 435.3L269.5 436.5L271.2 437.7L272.8 438.7L274.4 439.7L276.0 440.7L277.6 441.6L279.2 442.5L280.9 443.3L282.5 444.1L284.1 444.8L285.7 445.5L287.3 446.1L288.9 446.7L290.6 447.2L292.2 447.7L293.8 448.2L295.4 448.6L297.0 449.0L298.6 449.4L300.3 449.8L301.9 450.1L303.5 450.4"/>
<text class="lb" x="50.3" y="281.2">c) 0.5 M resin</text>
<text class="lb" x="50.3" y="298.4">SN = 7.27</text>
<text class="big" x="128.8" y="369.1" style="fill:#FF30D2;stroke:#FF30D2">Free</text>
<text class="big" x="145.4" y="447.0" style="fill:#00B050;stroke:#00B050">Coord.</text>
</g>
<g>
<rect class="k" x="393.10" y="261.64" width="258.80" height="191.46"/>
<path class="k" d="M406.04 453.10v-2.9M418.98 453.10v-2.9M431.92 453.10v-2.9M444.86 453.10v-4.3M457.80 453.10v-2.9M470.74 453.10v-2.9M483.68 453.10v-2.9M496.62 453.10v-4.3M509.56 453.10v-2.9M522.50 453.10v-2.9M535.44 453.10v-2.9M548.38 453.10v-4.3M561.32 453.10v-2.9M574.26 453.10v-2.9M587.20 453.10v-2.9M600.14 453.10v-4.3M613.08 453.10v-2.9M626.02 453.10v-2.9M638.96 453.10v-2.9M393.10 435.70h2.9M393.10 418.29h4.3M393.10 400.88h2.9M393.10 383.48h4.3M393.10 366.08h2.9M393.10 348.67h4.3M393.10 331.26h2.9M393.10 313.86h4.3M393.10 296.46h2.9M393.10 279.05h4.3"/>
<text class="t" x="393.1" y="471.1" text-anchor="middle">1217</text>
<text class="t" x="444.9" y="471.1" text-anchor="middle">1221</text>
<text class="t" x="496.6" y="471.1" text-anchor="middle">1225</text>
<text class="t" x="548.4" y="471.1" text-anchor="middle">1229</text>
<text class="t" x="600.1" y="471.1" text-anchor="middle">1233</text>
<text class="t" x="651.9" y="471.1" text-anchor="middle">1237</text>
<text class="t" x="382.5" y="457.4" text-anchor="end">0.0</text>
<text class="t" x="382.5" y="422.5" text-anchor="end">0.2</text>
<text class="t" x="382.5" y="387.7" text-anchor="end">0.4</text>
<text class="t" x="382.5" y="352.9" text-anchor="end">0.6</text>
<text class="t" x="382.5" y="318.1" text-anchor="end">0.8</text>
<text class="t" x="382.5" y="283.3" text-anchor="end">1.0</text>
<text class="ax" x="522.8" y="491.4" text-anchor="middle">Wavenumber / cm<tspan dy="-5.2" font-size="9.4">-1</tspan></text>
<text class="ax" transform="translate(358.8 357.7) rotate(-90)" text-anchor="middle">Normalized Intensity</text>
<path class="c" stroke="#FFA81E" d="M393.1 450.2L394.7 450.3L396.3 450.8L398.0 451.3L399.6 451.7L401.2 451.9L402.8 452.0L404.4 451.9L406.0 451.8L407.7 451.6L409.3 451.4L410.9 451.1L412.5 450.8L414.1 450.4L415.7 450.0L417.4 449.4L419.0 448.8L420.6 448.1L422.2 447.2L423.8 446.2L425.5 445.1L427.1 443.8L428.7 442.4L430.3 440.8L431.9 439.1L433.5 437.2L435.2 435.2L436.8 432.9L438.4 430.6L440.0 428.1L441.6 425.4L443.2 422.6L444.9 419.7L446.5 416.6L448.1 413.4L449.7 410.1L451.3 406.7L452.9 403.1L454.6 399.5L456.2 395.7L457.8 391.9L459.4 388.0L461.0 384.0L462.7 380.0L464.3 375.9L465.9 371.7L467.5 367.5L469.1 363.4L470.7 359.1L472.4 354.9L474.0 350.7L475.6 346.5L477.2 342.4L478.8 338.2L480.4 334.2L482.1 330.1L483.7 326.2L485.3 322.4L486.9 318.6L488.5 315.0L490.1 311.4L491.8 308.0L493.4 304.8L495.0 301.7L496.6 298.8L498.2 296.0L499.9 293.4L501.5 291.0L503.1 288.8L504.7 286.8L506.3 285.0L507.9 283.4L509.6 282.1L511.2 281.1L512.8 280.2L514.4 279.7L516.0 279.3L517.6 279.3L519.3 279.4L520.9 279.8L522.5 280.4L524.1 281.2L525.7 282.1L527.4 283.3L529.0 284.7L530.6 286.2L532.2 287.8L533.8 289.6L535.4 291.6L537.1 293.6L538.7 295.7L540.3 298.0L541.9 300.3L543.5 302.7L545.1 305.2L546.8 307.7L548.4 310.3L550.0 312.9L551.6 315.5L553.2 318.2L554.9 320.9L556.5 323.7L558.1 326.5L559.7 329.3L561.3 332.1L562.9 334.9L564.6 337.7L566.2 340.6L567.8 343.5L569.4 346.4L571.0 349.2L572.6 352.1L574.3 355.0L575.9 358.0L577.5 360.9L579.1 363.8L580.7 366.7L582.3 369.6L584.0 372.5L585.6 375.3L587.2 378.2L588.8 381.0L590.4 383.9L592.1 386.6L593.7 389.4L595.3 392.1L596.9 394.8L598.5 397.5L600.1 400.1L601.8 402.6L603.4 405.1L605.0 407.6L606.6 410.0L608.2 412.3L609.8 414.5L611.5 416.7L613.1 418.8L614.7 420.9L616.3 422.9L617.9 424.8L619.5 426.6L621.2 428.4L622.8 430.0L624.4 431.7L626.0 433.2L627.6 434.7L629.3 436.1L630.9 437.5L632.5 438.8L634.1 440.1L635.7 441.3L637.3 442.5L639.0 443.6L640.6 444.7L642.2 445.7L643.8 446.7L645.4 447.6L647.0 448.4L648.7 449.1L650.3 449.8L651.9 450.3"/>
<path class="c" stroke="#FF30D2" d="M393.1 452.6L394.7 452.5L396.3 452.4L398.0 452.3L399.6 452.1L401.2 452.0L402.8 451.8L404.4 451.5L406.0 451.3L407.7 451.0L409.3 450.7L410.9 450.3L412.5 449.9L414.1 449.4L415.7 448.9L417.4 448.2L419.0 447.6L420.6 446.8L422.2 445.9L423.8 444.9L425.5 443.8L427.1 442.6L428.7 441.3L430.3 439.9L431.9 438.3L433.5 436.5L435.2 434.6L436.8 432.6L438.4 430.4L440.0 428.0L441.6 425.5L443.2 422.9L444.9 420.1L446.5 417.2L448.1 414.1L449.7 410.9L451.3 407.6L452.9 404.2L454.6 400.8L456.2 397.2L457.8 393.6L459.4 389.9L461.0 386.1L462.7 382.4L464.3 378.6L465.9 374.8L467.5 370.9L469.1 367.1L470.7 363.4L472.4 359.6L474.0 355.9L475.6 352.3L477.2 348.8L478.8 345.3L480.4 342.0L482.1 338.7L483.7 335.6L485.3 332.7L486.9 329.9L488.5 327.3L490.1 324.9L491.8 322.6L493.4 320.6L495.0 318.8L496.6 317.2L498.2 315.9L499.9 314.8L501.5 313.9L503.1 313.3L504.7 313.0L506.3 312.9L507.9 313.1L509.6 313.6L511.2 314.4L512.8 315.4L514.4 316.8L516.0 318.4L517.6 320.3L519.3 322.4L520.9 324.8L522.5 327.4L524.1 330.2L525.7 333.2L527.4 336.3L529.0 339.7L530.6 343.1L532.2 346.7L533.8 350.4L535.4 354.1L537.1 358.0L538.7 361.8L540.3 365.7L541.9 369.6L543.5 373.5L545.1 377.4L546.8 381.2L548.4 385.0L550.0 388.8L551.6 392.4L553.2 396.0L554.9 399.4L556.5 402.8L558.1 406.1L559.7 409.2L561.3 412.2L562.9 415.1L564.6 417.9L566.2 420.5L567.8 423.0L569.4 425.3L571.0 427.6L572.6 429.7L574.3 431.6L575.9 433.5L577.5 435.2L579.1 436.8L580.7 438.3L582.3 439.7L584.0 441.0L585.6 442.2L587.2 443.3L588.8 444.3L590.4 445.2L592.1 446.0L593.7 446.8L595.3 447.5L596.9 448.1L598.5 448.6L600.1 449.2L601.8 449.6L603.4 450.0L605.0 450.4L606.6 450.7L608.2 451.0L609.8 451.3L611.5 451.5L613.1 451.7L614.7 451.9L616.3 452.1L617.9 452.2L619.5 452.3L621.2 452.4L622.8 452.5L624.4 452.6L626.0 452.7L627.6 452.7L629.3 452.8L630.9 452.8L632.5 452.9L634.1 452.9L635.7 452.9L637.3 453.0L639.0 453.0L640.6 453.0L642.2 453.0L643.8 453.0L645.4 453.0L647.0 453.1L648.7 453.1L650.3 453.1L651.9 453.1"/>
<path class="c" stroke="#00B050" d="M393.1 453.1L394.7 453.1L396.3 453.1L398.0 453.1L399.6 453.1L401.2 453.1L402.8 453.1L404.4 453.1L406.0 453.1L407.7 453.1L409.3 453.1L410.9 453.1L412.5 453.1L414.1 453.1L415.7 453.1L417.4 453.1L419.0 453.0L420.6 453.0L422.2 453.0L423.8 453.0L425.5 453.0L427.1 453.0L428.7 453.0L430.3 452.9L431.9 452.9L433.5 452.9L435.2 452.8L436.8 452.8L438.4 452.8L440.0 452.7L441.6 452.6L443.2 452.6L444.9 452.5L446.5 452.4L448.1 452.3L449.7 452.2L451.3 452.1L452.9 451.9L454.6 451.8L456.2 451.6L457.8 451.4L459.4 451.2L461.0 451.0L462.7 450.7L464.3 450.5L465.9 450.2L467.5 449.8L469.1 449.4L470.7 449.0L472.4 448.6L474.0 448.1L475.6 447.6L477.2 447.0L478.8 446.4L480.4 445.7L482.1 445.0L483.7 444.3L485.3 443.4L486.9 442.6L488.5 441.6L490.1 440.6L491.8 439.6L493.4 438.4L495.0 437.2L496.6 436.0L498.2 434.7L499.9 433.3L501.5 431.8L503.1 430.3L504.7 428.7L506.3 427.1L507.9 425.4L509.6 423.6L511.2 421.8L512.8 420.0L514.4 418.1L516.0 416.1L517.6 414.1L519.3 412.1L520.9 410.1L522.5 408.0L524.1 405.9L525.7 403.9L527.4 401.8L529.0 399.7L530.6 397.7L532.2 395.6L533.8 393.7L535.4 391.7L537.1 389.8L538.7 388.0L540.3 386.2L541.9 384.6L543.5 383.0L545.1 381.5L546.8 380.1L548.4 378.8L550.0 377.6L551.6 376.6L553.2 375.6L554.9 374.8L556.5 374.2L558.1 373.7L559.7 373.3L561.3 373.1L562.9 373.0L564.6 373.1L566.2 373.3L567.8 373.7L569.4 374.2L571.0 374.8L572.6 375.6L574.3 376.5L575.9 377.6L577.5 378.8L579.1 380.1L580.7 381.5L582.3 383.0L584.0 384.6L585.6 386.3L587.2 388.0L588.8 389.9L590.4 391.8L592.1 393.7L593.7 395.7L595.3 397.8L596.9 399.8L598.5 401.9L600.1 404.0L601.8 406.1L603.4 408.2L605.0 410.3L606.6 412.3L608.2 414.4L609.8 416.3L611.5 418.3L613.1 420.2L614.7 422.1L616.3 423.9L617.9 425.7L619.5 427.4L621.2 429.0L622.8 430.6L624.4 432.1L626.0 433.5L627.6 434.9L629.3 436.2L630.9 437.5L632.5 438.7L634.1 439.8L635.7 440.9L637.3 441.8L639.0 442.8L640.6 443.6L642.2 444.5L643.8 445.2L645.4 445.9L647.0 446.6L648.7 447.2L650.3 447.7L651.9 448.3"/>
<path class="c" stroke="#0000FF" stroke-dasharray="9.2 3.5" stroke-dashoffset="9.2" d="M393.1 452.6L394.7 452.5L396.3 452.4L398.0 452.3L399.6 452.1L401.2 451.9L402.8 451.8L404.4 451.5L406.0 451.3L407.7 451.0L409.3 450.7L410.9 450.3L412.5 449.9L414.1 449.4L415.7 448.8L417.4 448.2L419.0 447.5L420.6 446.7L422.2 445.8L423.8 444.8L425.5 443.7L427.1 442.5L428.7 441.2L430.3 439.7L431.9 438.1L433.5 436.3L435.2 434.4L436.8 432.3L438.4 430.0L440.0 427.6L441.6 425.1L443.2 422.3L444.9 419.5L446.5 416.5L448.1 413.3L449.7 410.0L451.3 406.6L452.9 403.1L454.6 399.4L456.2 395.7L457.8 391.9L459.4 388.0L461.0 384.0L462.7 380.0L464.3 375.9L465.9 371.7L467.5 367.5L469.1 363.4L470.7 359.1L472.4 354.9L474.0 350.7L475.6 346.5L477.2 342.4L478.8 338.2L480.4 334.2L482.1 330.1L483.7 326.2L485.3 322.4L486.9 318.6L488.5 315.0L490.1 311.4L491.8 308.0L493.4 304.8L495.0 301.7L496.6 298.8L498.2 296.0L499.9 293.4L501.5 291.0L503.1 288.8L504.7 286.8L506.3 285.0L507.9 283.4L509.6 282.1L511.2 281.1L512.8 280.2L514.4 279.7L516.0 279.3L517.6 279.3L519.3 279.4L520.9 279.8L522.5 280.4L524.1 281.2L525.7 282.1L527.4 283.3L529.0 284.7L530.6 286.2L532.2 287.8L533.8 289.6L535.4 291.6L537.1 293.6L538.7 295.7L540.3 298.0L541.9 300.3L543.5 302.7L545.1 305.2L546.8 307.7L548.4 310.3L550.0 312.9L551.6 315.5L553.2 318.2L554.9 320.9L556.5 323.7L558.1 326.5L559.7 329.3L561.3 332.1L562.9 334.9L564.6 337.7L566.2 340.6L567.8 343.5L569.4 346.4L571.0 349.2L572.6 352.1L574.3 355.0L575.9 358.0L577.5 360.9L579.1 363.8L580.7 366.7L582.3 369.6L584.0 372.5L585.6 375.3L587.2 378.2L588.8 381.0L590.4 383.9L592.1 386.6L593.7 389.4L595.3 392.1L596.9 394.8L598.5 397.5L600.1 400.1L601.8 402.6L603.4 405.1L605.0 407.6L606.6 410.0L608.2 412.3L609.8 414.5L611.5 416.7L613.1 418.8L614.7 420.9L616.3 422.9L617.9 424.8L619.5 426.6L621.2 428.3L622.8 430.0L624.4 431.6L626.0 433.1L627.6 434.6L629.3 435.9L630.9 437.2L632.5 438.5L634.1 439.6L635.7 440.7L637.3 441.7L639.0 442.7L640.6 443.6L642.2 444.4L643.8 445.2L645.4 445.9L647.0 446.5L648.7 447.1L650.3 447.7L651.9 448.2"/>
<text class="lb" x="398.2" y="281.2">d) PVIm-0.5</text>
<text class="lb" x="398.2" y="298.4">SN = 8.03</text>
<text class="big" x="484.2" y="368.4" style="fill:#FF30D2;stroke:#FF30D2">Free</text>
<text class="big" x="505.3" y="447.1" style="fill:#00B050;stroke:#00B050">Coord.</text>
</g>
<g>
<rect class="k" x="44.75" y="523.07" width="258.75" height="191.73"/>
<path class="k" d="M57.69 714.80v-2.9M70.62 714.80v-2.9M83.56 714.80v-2.9M96.50 714.80v-4.3M109.44 714.80v-2.9M122.38 714.80v-2.9M135.31 714.80v-2.9M148.25 714.80v-4.3M161.19 714.80v-2.9M174.12 714.80v-2.9M187.06 714.80v-2.9M200.00 714.80v-4.3M212.94 714.80v-2.9M225.88 714.80v-2.9M238.81 714.80v-2.9M251.75 714.80v-4.3M264.69 714.80v-2.9M277.62 714.80v-2.9M290.56 714.80v-2.9M44.75 697.37h2.9M44.75 679.94h4.3M44.75 662.51h2.9M44.75 645.08h4.3M44.75 627.65h2.9M44.75 610.22h4.3M44.75 592.79h2.9M44.75 575.36h4.3M44.75 557.93h2.9M44.75 540.50h4.3"/>
<text class="t" x="44.8" y="732.8" text-anchor="middle">1217</text>
<text class="t" x="96.5" y="732.8" text-anchor="middle">1221</text>
<text class="t" x="148.2" y="732.8" text-anchor="middle">1225</text>
<text class="t" x="200.0" y="732.8" text-anchor="middle">1229</text>
<text class="t" x="251.8" y="732.8" text-anchor="middle">1233</text>
<text class="t" x="303.5" y="732.8" text-anchor="middle">1237</text>
<text class="t" x="34.1" y="719.0" text-anchor="end">0.0</text>
<text class="t" x="34.1" y="684.2" text-anchor="end">0.2</text>
<text class="t" x="34.1" y="649.3" text-anchor="end">0.4</text>
<text class="t" x="34.1" y="614.5" text-anchor="end">0.6</text>
<text class="t" x="34.1" y="579.6" text-anchor="end">0.8</text>
<text class="t" x="34.1" y="544.8" text-anchor="end">1.0</text>
<text class="ax" x="174.4" y="753.1" text-anchor="middle">Wavenumber / cm<tspan dy="-5.2" font-size="9.4">-1</tspan></text>
<text class="ax" transform="translate(10.5 619.2) rotate(-90)" text-anchor="middle">Normalized Intensity</text>
<path class="c" stroke="#FFA81E" d="M44.8 704.4L46.4 705.3L48.0 706.8L49.6 708.4L51.2 710.1L52.8 711.6L54.5 712.9L56.1 713.8L57.7 714.5L59.3 715.0L60.9 715.3L62.5 715.5L64.2 715.5L65.8 715.3L67.4 714.9L69.0 714.4L70.6 713.7L72.2 712.8L73.9 711.8L75.5 710.7L77.1 709.4L78.7 708.1L80.3 706.7L81.9 705.3L83.6 703.8L85.2 702.3L86.8 700.7L88.4 699.1L90.0 697.4L91.6 695.5L93.3 693.6L94.9 691.6L96.5 689.4L98.1 687.1L99.7 684.7L101.4 682.1L103.0 679.3L104.6 676.4L106.2 673.3L107.8 670.1L109.4 666.7L111.1 663.2L112.7 659.6L114.3 655.8L115.9 651.9L117.5 648.0L119.1 643.9L120.8 639.7L122.4 635.5L124.0 631.3L125.6 627.0L127.2 622.6L128.8 618.3L130.5 614.0L132.1 609.7L133.7 605.4L135.3 601.2L136.9 597.0L138.5 592.9L140.2 588.9L141.8 584.9L143.4 581.1L145.0 577.4L146.6 573.8L148.2 570.4L149.9 567.1L151.5 564.0L153.1 561.0L154.7 558.3L156.3 555.7L158.0 553.3L159.6 551.2L161.2 549.2L162.8 547.5L164.4 546.0L166.0 544.7L167.7 543.6L169.3 542.8L170.9 542.2L172.5 541.7L174.1 541.5L175.7 541.5L177.4 541.7L179.0 542.1L180.6 542.6L182.2 543.3L183.8 544.2L185.4 545.2L187.1 546.4L188.7 547.7L190.3 549.2L191.9 550.8L193.5 552.5L195.1 554.3L196.8 556.2L198.4 558.2L200.0 560.3L201.6 562.5L203.2 564.7L204.9 567.1L206.5 569.5L208.1 572.0L209.7 574.5L211.3 577.1L212.9 579.8L214.6 582.5L216.2 585.2L217.8 588.0L219.4 590.8L221.0 593.7L222.6 596.6L224.3 599.5L225.9 602.4L227.5 605.4L229.1 608.4L230.7 611.4L232.3 614.5L234.0 617.5L235.6 620.6L237.2 623.6L238.8 626.6L240.4 629.7L242.0 632.7L243.7 635.7L245.3 638.7L246.9 641.6L248.5 644.6L250.1 647.4L251.8 650.3L253.4 653.1L255.0 655.8L256.6 658.5L258.2 661.2L259.8 663.7L261.5 666.3L263.1 668.7L264.7 671.1L266.3 673.4L267.9 675.6L269.5 677.8L271.2 679.8L272.8 681.8L274.4 683.8L276.0 685.6L277.6 687.4L279.2 689.1L280.9 690.8L282.5 692.4L284.1 693.9L285.7 695.4L287.3 696.9L288.9 698.2L290.6 699.6L292.2 700.9L293.8 702.1L295.4 703.2L297.0 704.3L298.6 705.3L300.3 706.2L301.9 707.0L303.5 707.7"/>
<path class="c" stroke="#FF30D2" d="M44.8 712.4L46.4 712.3L48.0 712.3L49.6 712.2L51.2 712.1L52.8 712.0L54.5 711.9L56.1 711.7L57.7 711.6L59.3 711.4L60.9 711.2L62.5 710.9L64.2 710.7L65.8 710.4L67.4 710.0L69.0 709.6L70.6 709.2L72.2 708.8L73.9 708.2L75.5 707.6L77.1 707.0L78.7 706.3L80.3 705.5L81.9 704.6L83.6 703.7L85.2 702.7L86.8 701.6L88.4 700.4L90.0 699.1L91.6 697.7L93.3 696.1L94.9 694.5L96.5 692.8L98.1 691.0L99.7 689.0L101.4 687.0L103.0 684.8L104.6 682.5L106.2 680.1L107.8 677.6L109.4 675.0L111.1 672.4L112.7 669.6L114.3 666.8L115.9 663.9L117.5 660.9L119.1 657.9L120.8 654.8L122.4 651.8L124.0 648.7L125.6 645.6L127.2 642.6L128.8 639.6L130.5 636.7L132.1 633.8L133.7 631.0L135.3 628.4L136.9 625.8L138.5 623.4L140.2 621.2L141.8 619.1L143.4 617.3L145.0 615.6L146.6 614.1L148.2 612.9L149.9 611.9L151.5 611.1L153.1 610.6L154.7 610.3L156.3 610.2L158.0 610.5L159.6 610.9L161.2 611.7L162.8 612.6L164.4 613.9L166.0 615.3L167.7 617.0L169.3 618.9L170.9 620.9L172.5 623.2L174.1 625.6L175.7 628.2L177.4 630.9L179.0 633.7L180.6 636.6L182.2 639.6L183.8 642.6L185.4 645.7L187.1 648.8L188.7 651.9L190.3 655.0L191.9 658.1L193.5 661.2L195.1 664.2L196.8 667.1L198.4 670.0L200.0 672.8L201.6 675.5L203.2 678.1L204.9 680.6L206.5 683.0L208.1 685.3L209.7 687.5L211.3 689.6L212.9 691.5L214.6 693.3L216.2 695.1L217.8 696.7L219.4 698.2L221.0 699.5L222.6 700.8L224.3 702.0L225.9 703.1L227.5 704.1L229.1 705.0L230.7 705.9L232.3 706.6L234.0 707.3L235.6 708.0L237.2 708.5L238.8 709.0L240.4 709.5L242.0 709.9L243.7 710.2L245.3 710.6L246.9 710.8L248.5 711.1L250.1 711.3L251.8 711.5L253.4 711.7L255.0 711.8L256.6 711.9L258.2 712.1L259.8 712.2L261.5 712.2L263.1 712.3L264.7 712.4L266.3 712.4L267.9 712.5L269.5 712.5L271.2 712.5L272.8 712.6L274.4 712.6L276.0 712.6L277.6 712.6L279.2 712.6L280.9 712.7L282.5 712.7L284.1 712.7L285.7 712.7L287.3 712.7L288.9 712.7L290.6 712.7L292.2 712.7L293.8 712.7L295.4 712.7L297.0 712.7L298.6 712.7L300.3 712.7L301.9 712.7L303.5 712.7"/>
<path class="c" stroke="#00B050" d="M44.8 712.7L46.4 712.7L48.0 712.7L49.6 712.6L51.2 712.6L52.8 712.6L54.5 712.6L56.1 712.6L57.7 712.6L59.3 712.5L60.9 712.5L62.5 712.5L64.2 712.5L65.8 712.4L67.4 712.4L69.0 712.3L70.6 712.3L72.2 712.2L73.9 712.1L75.5 712.1L77.1 712.0L78.7 711.9L80.3 711.8L81.9 711.7L83.6 711.5L85.2 711.4L86.8 711.2L88.4 711.0L90.0 710.8L91.6 710.6L93.3 710.3L94.9 710.0L96.5 709.7L98.1 709.4L99.7 709.0L101.4 708.6L103.0 708.2L104.6 707.7L106.2 707.2L107.8 706.6L109.4 706.0L111.1 705.3L112.7 704.6L114.3 703.8L115.9 703.0L117.5 702.1L119.1 701.2L120.8 700.1L122.4 699.0L124.0 697.9L125.6 696.6L127.2 695.3L128.8 693.9L130.5 692.5L132.1 690.9L133.7 689.3L135.3 687.6L136.9 685.8L138.5 683.9L140.2 682.0L141.8 680.0L143.4 677.8L145.0 675.7L146.6 673.4L148.2 671.1L149.9 668.7L151.5 666.2L153.1 663.7L154.7 661.1L156.3 658.5L158.0 655.9L159.6 653.2L161.2 650.4L162.8 647.7L164.4 644.9L166.0 642.2L167.7 639.4L169.3 636.7L170.9 634.0L172.5 631.3L174.1 628.7L175.7 626.1L177.4 623.5L179.0 621.1L180.6 618.7L182.2 616.5L183.8 614.3L185.4 612.3L187.1 610.3L188.7 608.5L190.3 606.9L191.9 605.3L193.5 604.0L195.1 602.8L196.8 601.7L198.4 600.9L200.0 600.2L201.6 599.7L203.2 599.3L204.9 599.2L206.5 599.2L208.1 599.4L209.7 599.7L211.3 600.3L212.9 601.0L214.6 601.8L216.2 602.9L217.8 604.0L219.4 605.4L221.0 606.8L222.6 608.4L224.3 610.2L225.9 612.0L227.5 614.0L229.1 616.1L230.7 618.3L232.3 620.5L234.0 622.9L235.6 625.3L237.2 627.8L238.8 630.3L240.4 632.9L242.0 635.5L243.7 638.2L245.3 640.8L246.9 643.5L248.5 646.2L250.1 648.9L251.8 651.5L253.4 654.1L255.0 656.7L256.6 659.3L258.2 661.8L259.8 664.3L261.5 666.7L263.1 669.1L264.7 671.4L266.3 673.7L267.9 675.8L269.5 678.0L271.2 680.0L272.8 682.0L274.4 683.9L276.0 685.7L277.6 687.4L279.2 689.1L280.9 690.7L282.5 692.2L284.1 693.6L285.7 695.0L287.3 696.3L288.9 697.5L290.6 698.6L292.2 699.7L293.8 700.7L295.4 701.7L297.0 702.6L298.6 703.4L300.3 704.2L301.9 704.9L303.5 705.6"/>
<path class="c" stroke="#0000FF" stroke-dasharray="9.2 3.5" stroke-dashoffset="9.2" d="M44.8 712.3L46.4 712.3L48.0 712.2L49.6 712.1L51.2 712.0L52.8 711.9L54.5 711.8L56.1 711.6L57.7 711.4L59.3 711.2L60.9 711.0L62.5 710.7L64.2 710.4L65.8 710.1L67.4 709.7L69.0 709.3L70.6 708.8L72.2 708.3L73.9 707.7L75.5 707.0L77.1 706.3L78.7 705.4L80.3 704.5L81.9 703.5L83.6 702.4L85.2 701.2L86.8 699.9L88.4 698.5L90.0 696.9L91.6 695.3L93.3 693.4L94.9 691.5L96.5 689.3L98.1 687.1L99.7 684.6L101.4 682.0L103.0 679.3L104.6 676.4L106.2 673.3L107.8 670.1L109.4 666.7L111.1 663.2L112.7 659.6L114.3 655.8L115.9 651.9L117.5 648.0L119.1 643.9L120.8 639.7L122.4 635.5L124.0 631.3L125.6 627.0L127.2 622.6L128.8 618.3L130.5 614.0L132.1 609.7L133.7 605.4L135.3 601.2L136.9 597.0L138.5 592.9L140.2 588.9L141.8 584.9L143.4 581.1L145.0 577.4L146.6 573.8L148.2 570.4L149.9 567.1L151.5 564.0L153.1 561.0L154.7 558.3L156.3 555.7L158.0 553.3L159.6 551.2L161.2 549.2L162.8 547.5L164.4 546.0L166.0 544.7L167.7 543.6L169.3 542.8L170.9 542.2L172.5 541.7L174.1 541.5L175.7 541.5L177.4 541.7L179.0 542.1L180.6 542.6L182.2 543.3L183.8 544.2L185.4 545.2L187.1 546.4L188.7 547.7L190.3 549.2L191.9 550.8L193.5 552.5L195.1 554.3L196.8 556.2L198.4 558.2L200.0 560.3L201.6 562.5L203.2 564.7L204.9 567.1L206.5 569.5L208.1 572.0L209.7 574.5L211.3 577.1L212.9 579.8L214.6 582.5L216.2 585.2L217.8 588.0L219.4 590.8L221.0 593.7L222.6 596.6L224.3 599.5L225.9 602.4L227.5 605.4L229.1 608.4L230.7 611.4L232.3 614.5L234.0 617.5L235.6 620.6L237.2 623.6L238.8 626.6L240.4 629.7L242.0 632.7L243.7 635.7L245.3 638.7L246.9 641.6L248.5 644.6L250.1 647.4L251.8 650.3L253.4 653.1L255.0 655.8L256.6 658.5L258.2 661.2L259.8 663.7L261.5 666.3L263.1 668.7L264.7 671.1L266.3 673.4L267.9 675.6L269.5 677.8L271.2 679.8L272.8 681.8L274.4 683.7L276.0 685.6L277.6 687.3L279.2 689.0L280.9 690.6L282.5 692.1L284.1 693.6L285.7 694.9L287.3 696.2L288.9 697.5L290.6 698.6L292.2 699.7L293.8 700.7L295.4 701.7L297.0 702.6L298.6 703.4L300.3 704.2L301.9 704.9L303.5 705.6"/>
<text class="lb" x="50.3" y="542.1">e) 1.0 M resin</text>
<text class="lb" x="50.3" y="559.4">SN = 5.76</text>
<text class="big" x="163.5" y="707.3" style="fill:#FF30D2;stroke:#FF30D2">Free</text>
<text class="big" x="145.4" y="596.6" style="fill:#00B050;stroke:#00B050">Coord.</text>
</g>
<g>
<rect class="k" x="393.10" y="523.02" width="258.80" height="192.28"/>
<path class="k" d="M406.04 715.30v-2.9M418.98 715.30v-2.9M431.92 715.30v-2.9M444.86 715.30v-4.3M457.80 715.30v-2.9M470.74 715.30v-2.9M483.68 715.30v-2.9M496.62 715.30v-4.3M509.56 715.30v-2.9M522.50 715.30v-2.9M535.44 715.30v-2.9M548.38 715.30v-4.3M561.32 715.30v-2.9M574.26 715.30v-2.9M587.20 715.30v-2.9M600.14 715.30v-4.3M613.08 715.30v-2.9M626.02 715.30v-2.9M638.96 715.30v-2.9M393.10 697.82h2.9M393.10 680.34h4.3M393.10 662.86h2.9M393.10 645.38h4.3M393.10 627.90h2.9M393.10 610.42h4.3M393.10 592.94h2.9M393.10 575.46h4.3M393.10 557.98h2.9M393.10 540.50h4.3"/>
<text class="t" x="393.1" y="733.3" text-anchor="middle">1217</text>
<text class="t" x="444.9" y="733.3" text-anchor="middle">1221</text>
<text class="t" x="496.6" y="733.3" text-anchor="middle">1225</text>
<text class="t" x="548.4" y="733.3" text-anchor="middle">1229</text>
<text class="t" x="600.1" y="733.3" text-anchor="middle">1233</text>
<text class="t" x="651.9" y="733.3" text-anchor="middle">1237</text>
<text class="t" x="382.5" y="719.5" text-anchor="end">0.0</text>
<text class="t" x="382.5" y="684.6" text-anchor="end">0.2</text>
<text class="t" x="382.5" y="649.6" text-anchor="end">0.4</text>
<text class="t" x="382.5" y="614.7" text-anchor="end">0.6</text>
<text class="t" x="382.5" y="579.7" text-anchor="end">0.8</text>
<text class="t" x="382.5" y="544.8" text-anchor="end">1.0</text>
<text class="ax" x="522.8" y="753.6" text-anchor="middle">Wavenumber / cm<tspan dy="-5.2" font-size="9.4">-1</tspan></text>
<text class="ax" transform="translate(358.8 619.5) rotate(-90)" text-anchor="middle">Normalized Intensity</text>
<path class="c" stroke="#FFA81E" d="M393.1 697.7L394.7 698.4L396.3 699.9L398.0 702.0L399.6 704.5L401.2 706.9L402.8 709.1L404.4 710.9L406.0 712.3L407.7 713.4L409.3 714.2L410.9 714.9L412.5 715.3L414.1 715.7L415.7 715.9L417.4 716.0L419.0 716.0L420.6 715.8L422.2 715.5L423.8 715.0L425.5 714.4L427.1 713.6L428.7 712.6L430.3 711.6L431.9 710.4L433.5 709.0L435.2 707.6L436.8 706.1L438.4 704.5L440.0 702.8L441.6 701.0L443.2 699.2L444.9 697.3L446.5 695.2L448.1 693.1L449.7 690.8L451.3 688.4L452.9 685.9L454.6 683.2L456.2 680.4L457.8 677.4L459.4 674.2L461.0 670.9L462.7 667.5L464.3 663.9L465.9 660.1L467.5 656.3L469.1 652.3L470.7 648.2L472.4 644.1L474.0 639.9L475.6 635.6L477.2 631.3L478.8 627.0L480.4 622.7L482.1 618.3L483.7 614.0L485.3 609.7L486.9 605.5L488.5 601.3L490.1 597.2L491.8 593.1L493.4 589.1L495.0 585.2L496.6 581.4L498.2 577.7L499.9 574.2L501.5 570.7L503.1 567.5L504.7 564.3L506.3 561.4L507.9 558.6L509.6 556.0L511.2 553.6L512.8 551.4L514.4 549.5L516.0 547.8L517.6 546.3L519.3 545.0L520.9 543.9L522.5 543.1L524.1 542.5L525.7 542.1L527.4 541.9L529.0 541.8L530.6 542.0L532.2 542.4L533.8 542.9L535.4 543.5L537.1 544.4L538.7 545.3L540.3 546.4L541.9 547.6L543.5 548.9L545.1 550.3L546.8 551.8L548.4 553.5L550.0 555.2L551.6 557.0L553.2 558.8L554.9 560.8L556.5 562.8L558.1 564.9L559.7 567.1L561.3 569.4L562.9 571.7L564.6 574.1L566.2 576.6L567.8 579.1L569.4 581.7L571.0 584.4L572.6 587.1L574.3 589.9L575.9 592.8L577.5 595.7L579.1 598.7L580.7 601.7L582.3 604.8L584.0 607.9L585.6 611.1L587.2 614.3L588.8 617.5L590.4 620.7L592.1 624.0L593.7 627.2L595.3 630.4L596.9 633.7L598.5 636.9L600.1 640.1L601.8 643.2L603.4 646.3L605.0 649.4L606.6 652.4L608.2 655.4L609.8 658.3L611.5 661.1L613.1 663.8L614.7 666.5L616.3 669.1L617.9 671.6L619.5 674.0L621.2 676.4L622.8 678.6L624.4 680.8L626.0 682.9L627.6 684.9L629.3 686.9L630.9 688.7L632.5 690.6L634.1 692.3L635.7 694.1L637.3 695.7L639.0 697.4L640.6 698.9L642.2 700.4L643.8 701.8L645.4 703.1L647.0 704.3L648.7 705.3L650.3 706.3L651.9 707.0"/>
<path class="c" stroke="#FF30D2" d="M393.1 710.5L394.7 710.4L396.3 710.4L398.0 710.4L399.6 710.3L401.2 710.3L402.8 710.2L404.4 710.2L406.0 710.1L407.7 710.0L409.3 709.9L410.9 709.8L412.5 709.6L414.1 709.5L415.7 709.3L417.4 709.1L419.0 708.9L420.6 708.6L422.2 708.3L423.8 707.9L425.5 707.5L427.1 707.1L428.7 706.6L430.3 706.0L431.9 705.4L433.5 704.7L435.2 704.0L436.8 703.1L438.4 702.2L440.0 701.2L441.6 700.1L443.2 698.8L444.9 697.5L446.5 696.1L448.1 694.5L449.7 692.9L451.3 691.1L452.9 689.2L454.6 687.1L456.2 685.0L457.8 682.7L459.4 680.3L461.0 677.7L462.7 675.1L464.3 672.3L465.9 669.5L467.5 666.5L469.1 663.4L470.7 660.3L472.4 657.1L474.0 653.8L475.6 650.5L477.2 647.2L478.8 643.9L480.4 640.6L482.1 637.3L483.7 634.0L485.3 630.9L486.9 627.8L488.5 624.8L490.1 622.0L491.8 619.3L493.4 616.7L495.0 614.4L496.6 612.2L498.2 610.3L499.9 608.6L501.5 607.1L503.1 605.9L504.7 605.0L506.3 604.3L507.9 604.0L509.6 603.9L511.2 604.1L512.8 604.6L514.4 605.3L516.0 606.4L517.6 607.8L519.3 609.4L520.9 611.2L522.5 613.3L524.1 615.7L525.7 618.2L527.4 620.9L529.0 623.8L530.6 626.8L532.2 630.0L533.8 633.2L535.4 636.5L537.1 639.9L538.7 643.3L540.3 646.7L541.9 650.1L543.5 653.5L545.1 656.9L546.8 660.2L548.4 663.4L550.0 666.5L551.6 669.6L553.2 672.5L554.9 675.4L556.5 678.1L558.1 680.6L559.7 683.1L561.3 685.4L562.9 687.6L564.6 689.7L566.2 691.6L567.8 693.4L569.4 695.0L571.0 696.6L572.6 698.0L574.3 699.3L575.9 700.5L577.5 701.6L579.1 702.6L580.7 703.5L582.3 704.3L584.0 705.0L585.6 705.7L587.2 706.3L588.8 706.8L590.4 707.3L592.1 707.7L593.7 708.1L595.3 708.4L596.9 708.7L598.5 708.9L600.1 709.1L601.8 709.3L603.4 709.5L605.0 709.6L606.6 709.7L608.2 709.8L609.8 709.9L611.5 710.0L613.1 710.1L614.7 710.1L616.3 710.2L617.9 710.2L619.5 710.2L621.2 710.3L622.8 710.3L624.4 710.3L626.0 710.3L627.6 710.3L629.3 710.4L630.9 710.4L632.5 710.4L634.1 710.4L635.7 710.4L637.3 710.4L639.0 710.4L640.6 710.4L642.2 710.4L643.8 710.4L645.4 710.4L647.0 710.4L648.7 710.4L650.3 710.4L651.9 710.4"/>
<path class="c" stroke="#00B050" d="M393.1 710.7L394.7 710.7L396.3 710.7L398.0 710.7L399.6 710.7L401.2 710.7L402.8 710.7L404.4 710.7L406.0 710.7L407.7 710.7L409.3 710.7L410.9 710.7L412.5 710.7L414.1 710.7L415.7 710.7L417.4 710.6L419.0 710.6L420.6 710.6L422.2 710.6L423.8 710.6L425.5 710.5L427.1 710.5L428.7 710.4L430.3 710.4L431.9 710.3L433.5 710.3L435.2 710.2L436.8 710.1L438.4 710.0L440.0 709.9L441.6 709.8L443.2 709.7L444.9 709.6L446.5 709.4L448.1 709.2L449.7 709.0L451.3 708.8L452.9 708.5L454.6 708.3L456.2 707.9L457.8 707.6L459.4 707.2L461.0 706.8L462.7 706.4L464.3 705.9L465.9 705.3L467.5 704.8L469.1 704.1L470.7 703.4L472.4 702.7L474.0 701.8L475.6 701.0L477.2 700.0L478.8 699.0L480.4 697.9L482.1 696.7L483.7 695.4L485.3 694.1L486.9 692.7L488.5 691.2L490.1 689.6L491.8 687.9L493.4 686.1L495.0 684.2L496.6 682.3L498.2 680.2L499.9 678.1L501.5 675.8L503.1 673.5L504.7 671.1L506.3 668.6L507.9 666.0L509.6 663.4L511.2 660.7L512.8 657.9L514.4 655.1L516.0 652.3L517.6 649.4L519.3 646.4L520.9 643.5L522.5 640.5L524.1 637.5L525.7 634.6L527.4 631.6L529.0 628.7L530.6 625.9L532.2 623.1L533.8 620.4L535.4 617.7L537.1 615.1L538.7 612.7L540.3 610.3L541.9 608.1L543.5 606.0L545.1 604.1L546.8 602.3L548.4 600.7L550.0 599.3L551.6 598.0L553.2 597.0L554.9 596.1L556.5 595.4L558.1 594.9L559.7 594.7L561.3 594.6L562.9 594.7L564.6 595.1L566.2 595.6L567.8 596.4L569.4 597.3L571.0 598.5L572.6 599.8L574.3 601.3L575.9 603.0L577.5 604.8L579.1 606.8L580.7 608.9L582.3 611.2L584.0 613.6L585.6 616.1L587.2 618.7L588.8 621.3L590.4 624.1L592.1 626.9L593.7 629.8L595.3 632.7L596.9 635.7L598.5 638.6L600.1 641.6L601.8 644.6L603.4 647.5L605.0 650.4L606.6 653.3L608.2 656.2L609.8 659.0L611.5 661.7L613.1 664.4L614.7 667.0L616.3 669.6L617.9 672.0L619.5 674.4L621.2 676.7L622.8 678.9L624.4 681.0L626.0 683.1L627.6 685.0L629.3 686.8L630.9 688.6L632.5 690.3L634.1 691.8L635.7 693.3L637.3 694.7L639.0 696.0L640.6 697.3L642.2 698.4L643.8 699.5L645.4 700.5L647.0 701.4L648.7 702.3L650.3 703.1L651.9 703.8"/>
<path class="c" stroke="#0000FF" stroke-dasharray="9.2 3.5" stroke-dashoffset="9.2" d="M393.1 710.5L394.7 710.5L396.3 710.5L398.0 710.5L399.6 710.4L401.2 710.4L402.8 710.3L404.4 710.2L406.0 710.1L407.7 710.1L409.3 709.9L410.9 709.8L412.5 709.7L414.1 709.5L415.7 709.3L417.4 709.1L419.0 708.8L420.6 708.5L422.2 708.2L423.8 707.8L425.5 707.4L427.1 706.9L428.7 706.3L430.3 705.7L431.9 705.0L433.5 704.2L435.2 703.4L436.8 702.4L438.4 701.3L440.0 700.1L441.6 698.8L443.2 697.4L444.9 695.8L446.5 694.1L448.1 692.2L449.7 690.1L451.3 687.9L452.9 685.5L454.6 682.9L456.2 680.2L457.8 677.2L459.4 674.1L461.0 670.9L462.7 667.4L464.3 663.8L465.9 660.1L467.5 656.3L469.1 652.3L470.7 648.2L472.4 644.1L474.0 639.9L475.6 635.6L477.2 631.3L478.8 627.0L480.4 622.7L482.1 618.3L483.7 614.0L485.3 609.7L486.9 605.5L488.5 601.3L490.1 597.2L491.8 593.1L493.4 589.1L495.0 585.2L496.6 581.4L498.2 577.7L499.9 574.2L501.5 570.7L503.1 567.5L504.7 564.3L506.3 561.4L507.9 558.6L509.6 556.0L511.2 553.6L512.8 551.4L514.4 549.5L516.0 547.8L517.6 546.3L519.3 545.0L520.9 543.9L522.5 543.1L524.1 542.5L525.7 542.1L527.4 541.9L529.0 541.8L530.6 542.0L532.2 542.4L533.8 542.9L535.4 543.5L537.1 544.4L538.7 545.3L540.3 546.4L541.9 547.6L543.5 548.9L545.1 550.3L546.8 551.8L548.4 553.5L550.0 555.2L551.6 557.0L553.2 558.8L554.9 560.8L556.5 562.8L558.1 564.9L559.7 567.1L561.3 569.4L562.9 571.7L564.6 574.1L566.2 576.6L567.8 579.1L569.4 581.7L571.0 584.4L572.6 587.1L574.3 589.9L575.9 592.8L577.5 595.7L579.1 598.7L580.7 601.7L582.3 604.8L584.0 607.9L585.6 611.1L587.2 614.3L588.8 617.5L590.4 620.7L592.1 624.0L593.7 627.2L595.3 630.4L596.9 633.7L598.5 636.9L600.1 640.1L601.8 643.2L603.4 646.3L605.0 649.4L606.6 652.4L608.2 655.4L609.8 658.3L611.5 661.1L613.1 663.8L614.7 666.5L616.3 669.1L617.9 671.6L619.5 674.0L621.2 676.3L622.8 678.6L624.4 680.7L626.0 682.7L627.6 684.7L629.3 686.5L630.9 688.3L632.5 690.0L634.1 691.5L635.7 693.0L637.3 694.4L639.0 695.8L640.6 697.0L642.2 698.1L643.8 699.2L645.4 700.2L647.0 701.1L648.7 702.0L650.3 702.8L651.9 703.5"/>
<text class="lb" x="398.6" y="541.7">f) PVIm-1.0</text>
<text class="lb" x="398.6" y="559.2">SN = 5.71</text>
<text class="big" x="518.3" y="707.7" style="fill:#FF30D2;stroke:#FF30D2">Free</text>
<text class="big" x="500.7" y="591.7" style="fill:#00B050;stroke:#00B050">Coord.</text>
</g>
<g id="molecule">
<path class="mol" d="M246.8 16L269.8 28.4M244.1 20.6L263.4 31.8M269.8 28L269.8 53.6M263.9 66.2L242.5 81.5M275.6 66.2L297.3 81.5M297.3 81.5L286.4 114M286.4 114L259 114M242.5 81.5L250.4 107.2M248.6 84.2L254.9 103.2M289.7 84.2L282.3 106.5"/>
<path class="mol" stroke-dasharray="1 1.1" d="M250.5 121.4L242.7 131.6"/>
<text class="rg" x="222.2" y="15.8" font-size="12.8">H<tspan dy="4.9" font-size="10.2">2</tspan><tspan dy="-4.9">C</tspan></text>
<text class="rg" x="269.8" y="66.2" font-size="12.8" text-anchor="middle">N</text>
<text class="rg" x="253.2" y="118.4" font-size="12.8" text-anchor="middle">N</text>
<circle cx="237.8" cy="136" r="4.9" fill="#0000FF"/>
<text x="238.4" y="151.8" font-size="11.4" textLength="13.4" lengthAdjust="spacingAndGlyphs">Ca</text>
<text x="253.4" y="146.0" font-size="9.8" textLength="11.8" lengthAdjust="spacingAndGlyphs">2+</text>
<path fill="#00B050" d="M216.7 109.4L218.4 113.8L231.05 108.3L232.6 112L239.95 102L227.1 100.2L228.8 104.1Z"/>
</g>

</svg></body></html>
